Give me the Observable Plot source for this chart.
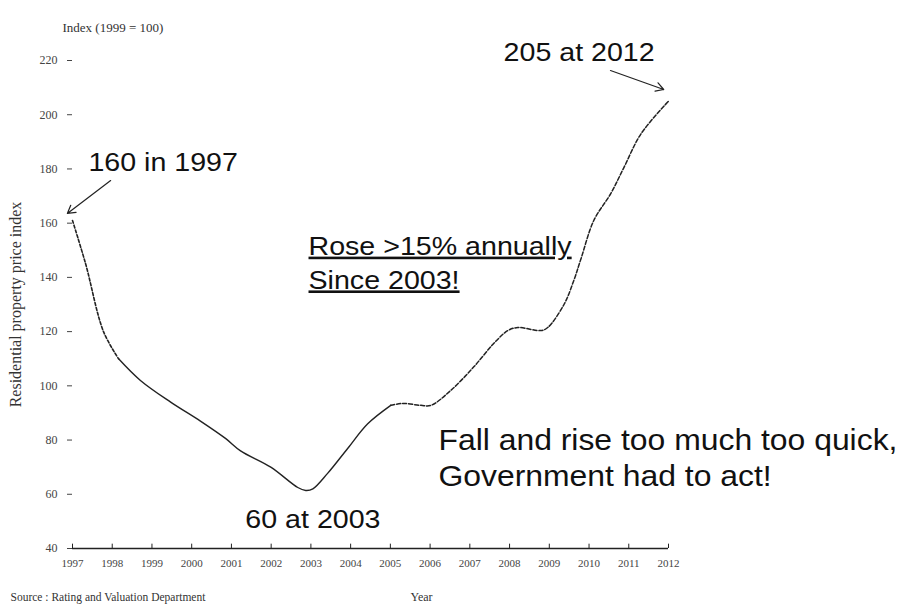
<!DOCTYPE html>
<html>
<head>
<meta charset="utf-8">
<script src="https://cdn.jsdelivr.net/npm/d3@7"></script>
<script src="https://cdn.jsdelivr.net/npm/@observablehq/plot@0.6"></script>
<style>
  html, body { margin: 0; padding: 0; background: #fff; }
  #chart { width: 906px; height: 607px; }
</style>
</head>
<body>
<div id="chart"></div>
<script>
// Series: residential property price index (1999 = 100)
const years = [1997.0, 1997.33, 1997.78, 1998.16, 1998.71, 1999.47, 2000.22, 2000.85, 2001.23, 2001.99,
               2002.67, 2002.87, 2003.05, 2003.42, 2003.93, 2004.43, 2005.01, 2005.31, 2005.77, 2006.02,
               2006.52, 2007.10, 2007.60, 2007.96, 2008.21, 2008.79, 2008.96, 2009.37, 2009.62, 2009.80,
               2010.12, 2010.55, 2010.88, 2011.31, 2012.0];
const index = [161, 145, 120, 110, 102, 94, 87, 80.6, 76, 70,
               62.5, 61.4, 62, 67.7, 77, 86, 92.8, 93.5, 92.8, 92.8,
               98.3, 107, 115.6, 120.4, 121.5, 120.4, 121.5, 130, 139, 147,
               161, 171, 180.6, 193, 205];

// Axis ticks
const yTicks = [40, 60, 80, 100, 120, 140, 160, 180, 200, 220];
const xTicks = [1997, 1998, 1999, 2000, 2001, 2002, 2003, 2004, 2005, 2006, 2007, 2008, 2009, 2010, 2011, 2012];

// Texts
const titleText = "Index (1999 = 100)";
const yAxisTitle = "Residential property price index";
const xAxisTitle = "Year";
const sourceText = "Source : Rating and Valuation Department";

// Annotations (anchor year, anchor value)
const noteLabels = ["160 in 1997", "205 at 2012", "60 at 2003"];
const noteYears  = [1997.40, 2007.85, 2001.35];
const noteValues = [179.4, 220, 47.4];
const underlinedLabel = "Rose >15% annually\nSince 2003!";
const underlinedYear = 2002.94;
const underlinedValue = 135.9;
const messageLabel = "Fall and rise too much too quick,\nGovernment had to act!";
const messageYear = 2006.21;
const messageValue = 63.2;

// Arrows (from -> to)
const arrowFromYear = [1997.96, 2010.54];
const arrowFromValue = [175.7, 216.3];
const arrowToYear = [1996.87, 2011.88];
const arrowToValue = [163.6, 209.3];

const data = years.map((year, i) => ({year, value: index[i]}));
const early = data.filter(d => d.year <= 1998.2);
const middle = data.filter(d => d.year >= 1998.1 && d.year <= 2005.05);
const late = data.filter(d => d.year >= 2005.0);
const notes = noteLabels.map((label, i) => ({label, year: noteYears[i], value: noteValues[i]}));
const arrows = arrowFromYear.map((x1, i) => ({x1, y1: arrowFromValue[i], x2: arrowToYear[i], y2: arrowToValue[i]}));

const serif = "'Liberation Serif', 'DejaVu Serif', serif";
const sans = "'Liberation Sans', Arial, sans-serif";

const chart = Plot.plot({
  width: 906,
  height: 607,
  marginLeft: 72,
  marginRight: 238,
  marginTop: 60,
  marginBottom: 59,
  style: {fontFamily: serif, background: "#fff", color: "#222", overflow: "visible"},
  x: {domain: [1997, 2012]},
  y: {domain: [40, 220]},
  marks: [
    Plot.axisY(yTicks, {tickSize: 5, tickPadding: 10, label: null, fontSize: 12, fill: "#444", stroke: "#444"}),
    Plot.axisX(xTicks, {tickSize: 0, tickPadding: 11, label: null, fontSize: 11, fill: "#444", tickFormat: d => String(d)}),
    Plot.ruleY([40], {stroke: "#222", strokeWidth: 1.3}),
    Plot.ruleX(xTicks, {y1: 40, y2: 41.6, stroke: "#222", strokeWidth: 1}),
    Plot.line(early, {x: "year", y: "value", curve: "catmull-rom", stroke: "#222", strokeWidth: 1.6, strokeDasharray: "3,2"}),
    Plot.line(middle, {x: "year", y: "value", curve: "catmull-rom", stroke: "#222", strokeWidth: 1.4}),
    Plot.line(late, {x: "year", y: "value", curve: "catmull-rom", stroke: "#222", strokeWidth: 1.5, strokeDasharray: "4,2"}),
    Plot.arrow(arrows, {x1: "x1", y1: "y1", x2: "x2", y2: "y2", stroke: "#222", strokeWidth: 1.2, headLength: 11, bend: 0}),
    Plot.text([titleText], {frameAnchor: "top-left", dx: -10, dy: -38, textAnchor: "start", fontSize: 13, fill: "#333"}),
    Plot.text([yAxisTitle], {frameAnchor: "left", dx: -57, dy: 0, rotate: -90, textAnchor: "middle", fontSize: 16, fill: "#333"}),
    Plot.text([sourceText], {frameAnchor: "bottom-left", dx: -62, dy: 52, textAnchor: "start", fontSize: 11.5, fill: "#333"}),
    Plot.text([xAxisTitle], {frameAnchor: "bottom", dx: 51, dy: 52, fontSize: 12, fill: "#333"}),
    Plot.text(notes, {x: "year", y: "value", text: "label", textAnchor: "start", lineAnchor: "bottom",
      fontFamily: sans, fontSize: 26, fill: "#111"}),
    Plot.text([underlinedLabel], {x: () => underlinedYear, y: () => underlinedValue, textAnchor: "start", lineAnchor: "bottom",
      lineHeight: 1.3, fontFamily: sans, fontSize: 26, fill: "#111"}),
    Plot.text([messageLabel], {x: () => messageYear, y: () => messageValue, textAnchor: "start", lineAnchor: "bottom",
      lineHeight: 1.22, fontFamily: sans, fontSize: 29, fill: "#111"})
  ]
});

document.getElementById("chart").appendChild(chart);

// Horizontal stretch of the scanned slide text, and underline on the highlighted note
const flat = s => s.replace(/\n/g, "");
const stretched = noteLabels.concat([underlinedLabel, messageLabel]).map(flat);
d3.select(chart).selectAll("text")
  .filter(function() { return stretched.includes(this.textContent); })
  .attr("transform", function() { return (this.getAttribute("transform") || "") + " scale(1.1,1)"; });
d3.select(chart).selectAll("text")
  .filter(function() { return this.textContent === flat(underlinedLabel); })
  .style("text-decoration", "underline");
</script>
</body>
</html>
